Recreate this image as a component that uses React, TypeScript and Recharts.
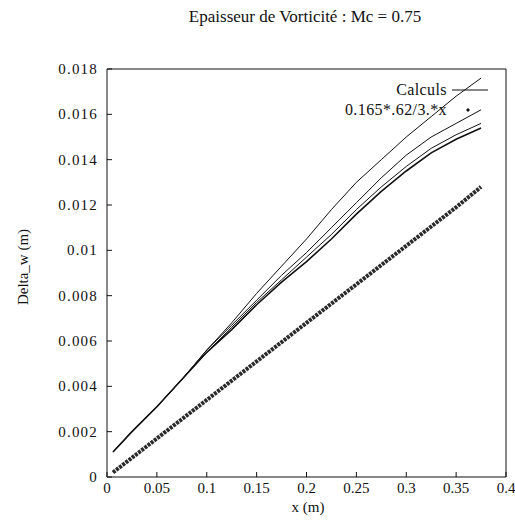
import React from 'react';
import { LineChart, Line, XAxis, YAxis, Legend } from 'recharts';

const X_TICKS = [0, 0.05, 0.1, 0.15, 0.2, 0.25, 0.3, 0.35, 0.4];
const Y_TICKS = [0, 0.002, 0.004, 0.006, 0.008, 0.01, 0.012, 0.014, 0.016, 0.018];

const calcX = [0.006, 0.025, 0.05, 0.075, 0.1, 0.125, 0.15, 0.175, 0.2, 0.225, 0.25, 0.275, 0.3, 0.325, 0.35, 0.375];
const calculsA = [0.0011, 0.002, 0.0031, 0.0043, 0.0056, 0.0068, 0.0081, 0.0093, 0.0105, 0.0118, 0.013, 0.014, 0.015, 0.0159, 0.0168, 0.0176];
const calculsB = [0.0011, 0.002, 0.0031, 0.0043, 0.0056, 0.0067, 0.0078, 0.0089, 0.0099, 0.011, 0.0121, 0.0132, 0.0142, 0.015, 0.0156, 0.0162];
const calculsC = [0.0011, 0.002, 0.0031, 0.0043, 0.0055, 0.0066, 0.0077, 0.0087, 0.0097, 0.0107, 0.0118, 0.0128, 0.0137, 0.0145, 0.0151, 0.0156];
const calculsD = [0.0011, 0.002, 0.0031, 0.0043, 0.0055, 0.0065, 0.0076, 0.0086, 0.0095, 0.0105, 0.0116, 0.0126, 0.0135, 0.0143, 0.0149, 0.0154];

const fitX = [0.006, 0.05, 0.1, 0.15, 0.2, 0.25, 0.3, 0.35, 0.375];
const fitY = [0.0002, 0.0017, 0.0034, 0.0051, 0.0068, 0.0085, 0.0102, 0.0119, 0.0128];

const SERIES_NAMES = ['Calculs', '0.165*.62/3.*x'];
const TITLE = 'Epaisseur de Vorticité : Mc = 0.75';
const X_LABEL = 'x (m)';
const Y_LABEL = 'Delta_w (m)';

const toPts = (xs: number[], ys: number[]) => xs.map((x, i) => ({ x, y: ys[i] }));

const FONT = '"Liberation Serif", "Times New Roman", serif';
const INK = '#111';

const XTick = (props: any) => {
  const { x, y, payload } = props;
  return (
    <text x={x} y={y + 11} textAnchor="middle" fontFamily={FONT} fontSize={15} fill={INK}>
      {String(payload.value)}
    </text>
  );
};

const YTick = (props: any) => {
  const { x, y, payload } = props;
  return (
    <text x={x} y={y + 5} textAnchor="end" fontFamily={FONT} fontSize={15} letterSpacing={1.2} fill={INK}>
      {String(payload.value)}
    </text>
  );
};

const renderLegend = (props: any) => {
  const payload = ((props.payload || []) as any[])
    .filter((p) => p.type !== 'none' && SERIES_NAMES.includes(p.value))
    .sort((a, b) => SERIES_NAMES.indexOf(a.value) - SERIES_NAMES.indexOf(b.value));
  return (
    <svg width={210} height={40} style={{ display: 'block' }}>
      {payload.map((p, i) => {
        const y = 12 + i * 20;
        return (
          <g key={i}>
            <text x={147} y={y + 5} textAnchor="end" fontFamily={FONT} fontSize={16} letterSpacing={0.4} fill={INK}>
              {p.value}
            </text>
            {p.type === 'line' ? (
              <line x1={152} x2={188} y1={y} y2={y} stroke={INK} strokeWidth={1} />
            ) : (
              <path d={`M168 ${y - 2} l2 2 l-2 2 l-2 -2 z`} fill={INK} />
            )}
          </g>
        );
      })}
    </svg>
  );
};

export default function App() {
  return (
    <div style={{ position: 'absolute', left: 0, top: 0, width: 515, height: 524, background: '#fff', fontFamily: FONT }}>
      <LineChart width={515} height={524} margin={{ top: 68, right: 8, bottom: 46, left: 106 }}>
        <XAxis
          xAxisId="b"
          type="number"
          dataKey="x"
          domain={[0, 0.4]}
          ticks={X_TICKS}
          interval={0}
          orientation="bottom"
          height={1}
          tickSize={-5}
          tickMargin={10}
          axisLine={{ stroke: INK }}
          tickLine={{ stroke: INK }}
          tick={<XTick />}
          allowDataOverflow
        />
        <XAxis
          xAxisId="t"
          type="number"
          dataKey="x"
          domain={[0, 0.4]}
          ticks={X_TICKS}
          interval={0}
          orientation="top"
          height={1}
          tickSize={-5}
          axisLine={{ stroke: INK }}
          tickLine={{ stroke: INK }}
          tick={false}
          allowDataOverflow
        />
        <YAxis
          yAxisId="l"
          type="number"
          domain={[0, 0.018]}
          ticks={Y_TICKS}
          interval={0}
          orientation="left"
          width={1}
          tickSize={-5}
          tickMargin={14}
          axisLine={{ stroke: INK }}
          tickLine={{ stroke: INK }}
          tick={<YTick />}
          allowDataOverflow
        />
        <YAxis
          yAxisId="r"
          type="number"
          domain={[0, 0.018]}
          ticks={Y_TICKS}
          interval={0}
          orientation="right"
          width={1}
          tickSize={-5}
          axisLine={{ stroke: INK }}
          tickLine={{ stroke: INK }}
          tick={false}
          allowDataOverflow
        />
        <Legend
          layout="horizontal"
          verticalAlign="middle"
          align="center"
          content={renderLegend}
          wrapperStyle={{ left: 300, top: 78, width: 210, height: 40 }}
        />
        <Line xAxisId="b" yAxisId="l" data={toPts(calcX, calculsA)} dataKey="y" name={SERIES_NAMES[0]} type="linear"
          stroke={INK} strokeWidth={1} dot={false} isAnimationActive={false} legendType="line" />
        <Line xAxisId="b" yAxisId="l" data={toPts(calcX, calculsB)} dataKey="y" name="Calculs 2" type="linear"
          stroke={INK} strokeWidth={1} dot={false} isAnimationActive={false} legendType="none" />
        <Line xAxisId="b" yAxisId="l" data={toPts(calcX, calculsC)} dataKey="y" name="Calculs 3" type="linear"
          stroke={INK} strokeWidth={1} dot={false} isAnimationActive={false} legendType="none" />
        <Line xAxisId="b" yAxisId="l" data={toPts(calcX, calculsD)} dataKey="y" name="Calculs 4" type="linear"
          stroke={INK} strokeWidth={1.6} dot={false} isAnimationActive={false} legendType="none" />
        <Line xAxisId="b" yAxisId="l" data={toPts(fitX, fitY)} dataKey="y" name={SERIES_NAMES[1]} type="linear"
          stroke="#2a2a2a" strokeWidth={4} strokeDasharray="3 1" dot={false} isAnimationActive={false} legendType="diamond" />
      </LineChart>
      <svg width={515} height={524} style={{ position: 'absolute', left: 0, top: 0, pointerEvents: 'none' }}>
        <text x={305} y={22} textAnchor="middle" fontFamily={FONT} fontSize={17} fill={INK}>{TITLE}</text>
        <text x={308} y={512} textAnchor="middle" fontFamily={FONT} fontSize={15} fill={INK}>{X_LABEL}</text>
        <text x={0} y={0} transform="translate(28 267) rotate(-90)" textAnchor="middle" fontFamily={FONT} fontSize={15} fill={INK}>{Y_LABEL}</text>
      </svg>
    </div>
  );
}
